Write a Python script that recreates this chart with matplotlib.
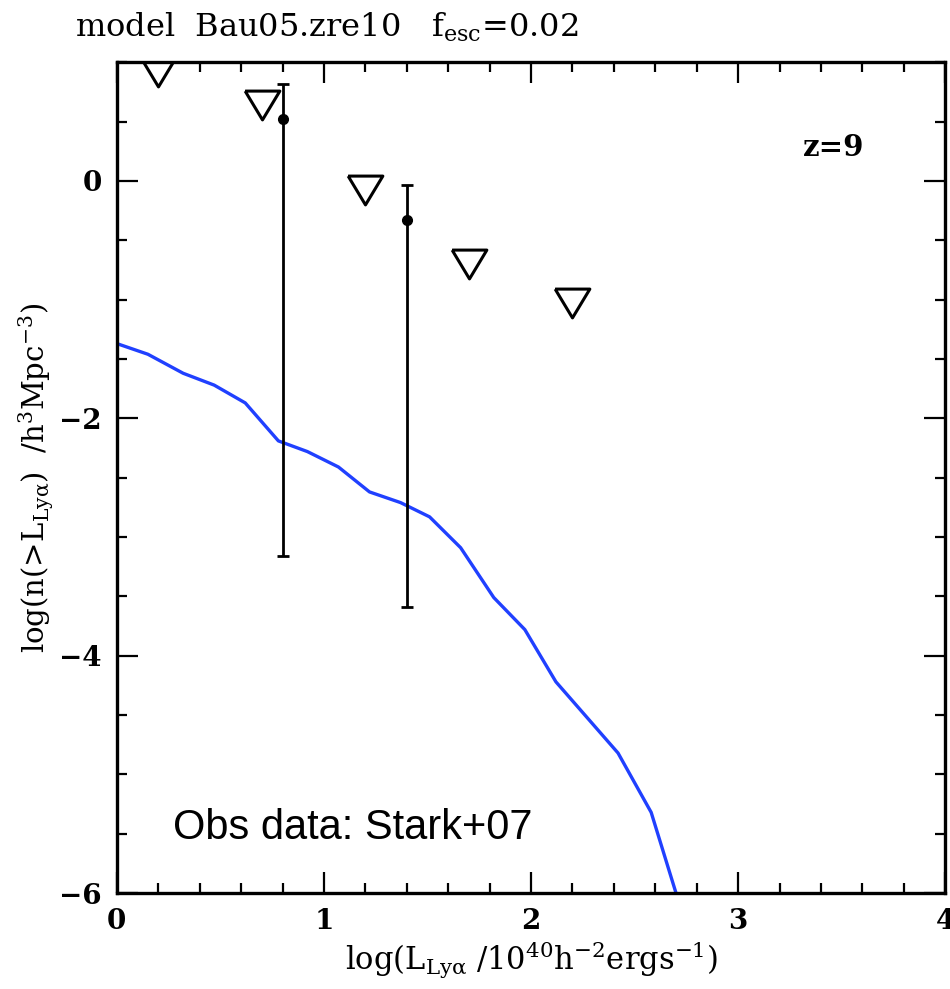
import matplotlib
matplotlib.use('Agg')
import matplotlib.pyplot as plt
from matplotlib.ticker import MultipleLocator

# model curve (blue)
model_x = [0.0, 0.15, 0.32, 0.47, 0.62, 0.78, 0.92, 1.07, 1.22, 1.37, 1.51, 1.66, 1.82, 1.97, 2.12, 2.42, 2.58, 2.70]
model_y = [-1.37, -1.46, -1.62, -1.72, -1.87, -2.19, -2.28, -2.41, -2.62, -2.71, -2.83, -3.09, -3.51, -3.78, -4.22, -4.82, -5.32, -6.0]

# upper-limit triangles
lim_x = [0.2, 0.7, 1.2, 1.7, 2.2]
lim_y = [0.92, 0.64, -0.08, -0.70, -1.03]

# Stark+07 points with error bars
obs_x = [0.8, 1.4]
obs_y = [0.52, -0.33]
obs_lo = [-3.16, -3.59]
obs_hi = [0.82, -0.03]

plt.rcParams['mathtext.fontset'] = 'dejavuserif'
plt.rcParams['font.family'] = 'DejaVu Serif'

fig = plt.figure(figsize=(9.5, 9.89), dpi=100)
ax = fig.add_axes([0.123, 0.097, 0.872, 0.84])

ax.plot(model_x, model_y, color='#2040ff', lw=2.4)

yerr = [[y - lo for y, lo in zip(obs_y, obs_lo)], [hi - y for y, hi in zip(obs_y, obs_hi)]]
ax.errorbar(obs_x, obs_y, yerr=yerr, fmt='o', color='black', ms=7, lw=2.0,
            capsize=4, capthick=2.0)

tri = [(-1, 0.83), (1, 0.83), (0, -0.83), (-1, 0.83)]
ax.plot(lim_x, lim_y, ls='none', marker=tri, ms=25, mfc='white', mec='black',
        mew=2.2)

ax.set_xlim(0, 4)
ax.set_ylim(-6, 1.0)
ax.xaxis.set_major_locator(MultipleLocator(1))
ax.xaxis.set_minor_locator(MultipleLocator(0.2))
ax.yaxis.set_major_locator(MultipleLocator(2))
ax.yaxis.set_minor_locator(MultipleLocator(0.5))
ax.tick_params(which='both', direction='in', top=True, right=True, width=1.6)
ax.tick_params(which='major', length=15, labelsize=20, pad=11)
ax.tick_params(which='minor', length=7.5)
for lab in ax.get_xticklabels() + ax.get_yticklabels():
    lab.set_fontweight('bold')
for s in ax.spines.values():
    s.set_linewidth(2.4)

ax.set_xlabel(r'log(L$_{\rm Ly\alpha}$ /10$^{40}$h$^{-2}$ergs$^{-1}$)', fontsize=22, labelpad=3)
ax.set_ylabel(r'log(n(>L$_{\rm Ly\alpha}$)  /h$^{3}$Mpc$^{-3}$)', fontsize=21, labelpad=2)

ax.text(3.46, 0.28, 'z=9', fontsize=21, fontweight='bold', ha='center', va='center')
ax.text(0.27, -5.45, 'Obs data: Stark+07', fontsize=30, family='Liberation Sans',
        ha='left', va='center')

fig.text(0.079, 0.972, r'model  Bau05.zre10   f$_{\rm esc}$=0.02', fontsize=23,
         ha='left', va='center')

plt.savefig('out.png', dpi=100)
